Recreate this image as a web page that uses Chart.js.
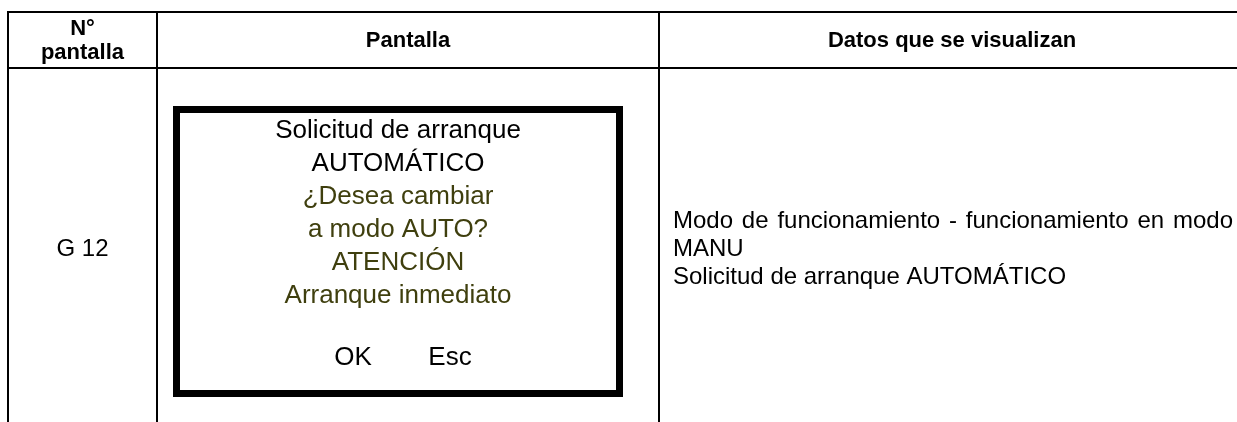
<!DOCTYPE html>
<html>
<head>
<meta charset="utf-8">
<script src="https://cdn.jsdelivr.net/npm/chart.js@4.4.1/dist/chart.umd.min.js"></script>
<style>
  html, body { margin: 0; padding: 0; background: #fff; }
  #wrap { width: 1237px; height: 422px; }
</style>
</head>
<body>
<div id="wrap"><canvas id="table-chart" width="1237" height="422"></canvas></div>
<script>
/**
 * DATA
 */
const headerLabels = [["N°", "pantalla"], ["Pantalla"], ["Datos que se visualizan"]];
const screenNumber = "G 12";
const screenTitleLines = ["Solicitud de arranque", "AUTOMÁTICO"];
const screenPromptLines = ["¿Desea cambiar", "a modo AUTO?", "ATENCIÓN", "Arranque inmediato"];
const screenButtons = ["OK", "Esc"];
const descriptionLines = [
  "Modo de funcionamiento - funcionamiento en modo",
  "MANU",
  "Solicitud de arranque AUTOMÁTICO"
];

/**
 * LAYOUT (page units, turned into pixels by the chart scales)
 */
const columnEdges = [8, 157, 659, 1245];
const rowEdges = [12, 68, 430];
const screenBox = { left: 173, top: 106, right: 623, bottom: 397, border: 7 };
const screenLineTop = 131;
const screenLineStep = 33;
const screenButtonsY = 358;
const screenButtonsX = [353, 450];
const descriptionX = 673;
const descriptionRight = 1233;
const descriptionTop = 221;
const descriptionStep = 28;

const FONT = "'Liberation Sans', Arial, sans-serif";
const TEXT_DARK = "#000000";
const TEXT_OLIVE = "#3f3f0e";


/**
 * AUX
 */
const px = (chart, x) => chart.scales.x.getPixelForValue(x);
const py = (chart, y) => chart.scales.y.getPixelForValue(y);

const drawJustified = (ctx, text, x, right, y) => {
  const words = text.split(" ");
  const wordsWidth = words.reduce((sum, w) => sum + ctx.measureText(w).width, 0);
  const gap = (right - x - wordsWidth) / (words.length - 1);
  let cursor = x;
  words.forEach(w => {
    ctx.fillText(w, cursor, y);
    cursor += ctx.measureText(w).width + gap;
  });
}

const tablePlugin = {
  id: "tablePlugin",
  afterDraw(chart) {
    const ctx = chart.ctx;
    ctx.save();

    // table rules
    ctx.strokeStyle = "#000";
    ctx.lineWidth = 2;
    ctx.beginPath();
    [rowEdges[0], rowEdges[1]].forEach(y => {
      ctx.moveTo(px(chart, columnEdges[0]) - 1, py(chart, y));
      ctx.lineTo(px(chart, columnEdges[3]), py(chart, y));
    });
    columnEdges.slice(0, 3).forEach(x => {
      ctx.moveTo(px(chart, x), py(chart, rowEdges[0]));
      ctx.lineTo(px(chart, x), py(chart, rowEdges[2]));
    });
    ctx.stroke();

    // header texts
    ctx.fillStyle = TEXT_DARK;
    ctx.textAlign = "center";
    ctx.textBaseline = "middle";
    ctx.font = "bold 22px " + FONT;
    const headerMid = (rowEdges[0] + rowEdges[1]) / 2 + 0.5;
    headerLabels.forEach((lines, i) => {
      const cx = (columnEdges[i] + columnEdges[i + 1]) / 2;
      lines.forEach((line, j) => {
        const y = headerMid + (j - (lines.length - 1) / 2) * 24;
        ctx.fillText(line, px(chart, cx), py(chart, y));
      });
    });

    // screen number
    ctx.font = "24px " + FONT;
    ctx.fillText(screenNumber, px(chart, (columnEdges[0] + columnEdges[1]) / 2), py(chart, 249));

    // screen mockup
    const b = screenBox;
    ctx.lineWidth = b.border;
    ctx.strokeRect(
      px(chart, b.left) + b.border / 2,
      py(chart, b.top) + b.border / 2,
      px(chart, b.right) - px(chart, b.left) - b.border,
      py(chart, b.bottom) - py(chart, b.top) - b.border
    );
    const boxMid = (b.left + b.right) / 2;
    ctx.font = "26px " + FONT;
    screenTitleLines.concat(screenPromptLines).forEach((line, i) => {
      ctx.fillStyle = i < screenTitleLines.length ? TEXT_DARK : TEXT_OLIVE;
      ctx.fillText(line, px(chart, boxMid), py(chart, screenLineTop + i * screenLineStep));
    });
    ctx.fillStyle = TEXT_DARK;
    screenButtons.forEach((label, i) => {
      ctx.fillText(label, px(chart, screenButtonsX[i]), py(chart, screenButtonsY));
    });

    // description column
    ctx.textAlign = "left";
    ctx.font = "24px " + FONT;
    descriptionLines.forEach((line, i) => {
      const y = py(chart, descriptionTop + i * descriptionStep);
      if (i === 0) {
        drawJustified(ctx, line, px(chart, descriptionX), px(chart, descriptionRight), y);
      } else {
        ctx.fillText(line, px(chart, descriptionX), y);
      }
    });

    ctx.restore();
  }
}

const setTableChart = (id) => {
  return new Chart(
    document.getElementById(id),
    {
      type: "scatter",
      data: { datasets: [] },
      options: {
        responsive: false,
        animation: false,
        events: [],
        layout: { padding: 0 },
        scales: {
          x: { type: "linear", min: 0, max: 1237, display: false },
          y: { type: "linear", min: 0, max: 422, reverse: true, display: false }
        },
        plugins: {
          legend: { display: false },
          tooltip: { enabled: false },
          title: { display: false }
        }
      },
      plugins: [tablePlugin]
    }
  );
}

setTableChart("table-chart");
</script>
</body>
</html>
